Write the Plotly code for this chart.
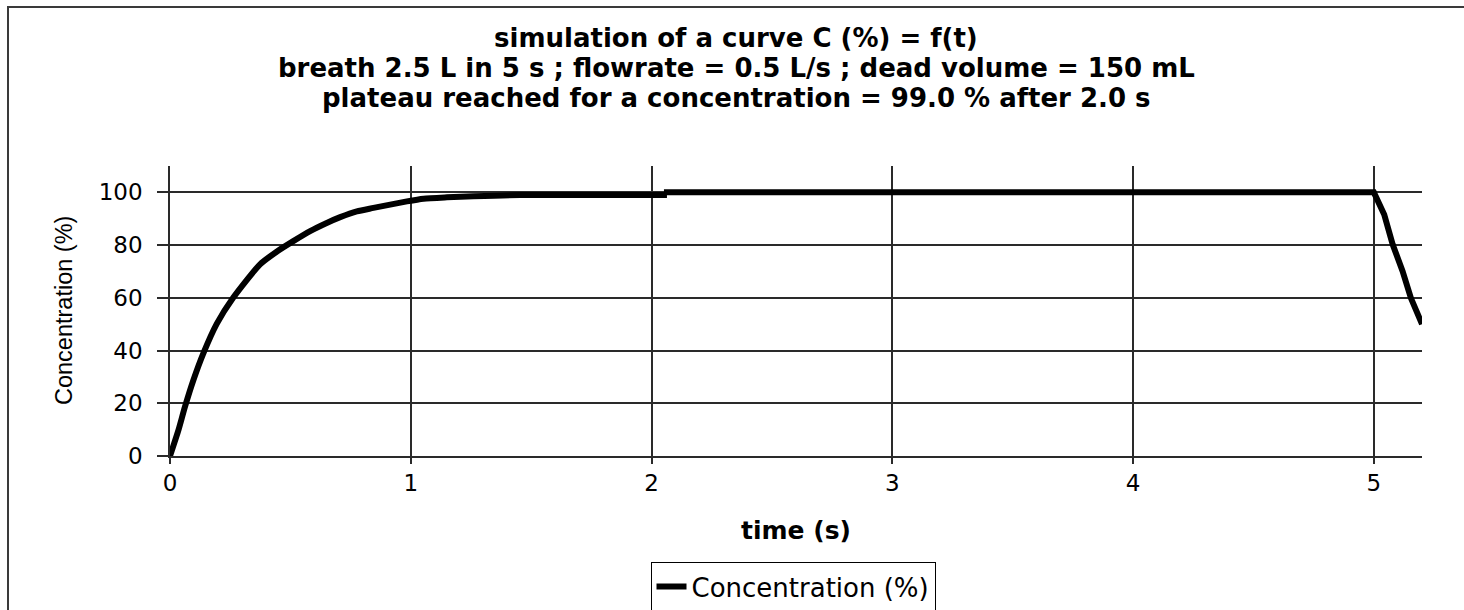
import plotly.graph_objects as go

# Simulated concentration curve C (%) versus time (s)
time_s = [0, 0.035, 0.062, 0.097, 0.138, 0.194, 0.263, 0.374, 0.443, 0.512,
          0.582, 0.651, 0.707, 0.776, 0.845, 0.984, 1.053, 1.15, 1.26, 1.455,
          2.064, 2.064, 5.0, 5.043, 5.078, 5.119, 5.154, 5.2]
concentration = [0, 9.8, 18.6, 28.7, 38.8, 50.1, 60.1, 72.7, 77.5, 81.5,
                 85.3, 88.4, 90.6, 92.8, 94.1, 96.6, 97.6, 98.1, 98.5, 99.0,
                 99.0, 100, 100, 91.6, 80.3, 70.2, 59.9, 50.0]

x_ticks = [0, 1, 2, 3, 4, 5]
y_ticks = [0, 20, 40, 60, 80, 100]

title_lines = [
    "simulation of a curve C (%) = f(t)",
    "breath 2.5 L in 5 s ; flowrate = 0.5 L/s ; dead volume = 150 mL",
    "plateau reached for a concentration = 99.0 % after 2.0 s",
]

W, H = 1464, 610
ML, MR, MT, MB = 170, 42, 166, 154
plot_w = W - ML - MR
plot_h = H - MT - MB

FONT = "DejaVu Sans"
GRID = "#2a2a2a"

# the smooth wash-in part is drawn as a spline, the plateau / wash-out as straight segments
split = time_s.index(2.064) + 1

fig = go.Figure()
fig.add_trace(go.Scatter(
    x=time_s[:split], y=concentration[:split], mode="lines",
    name="Concentration (%)", legendgroup="c",
    line=dict(color="black", width=6, shape="spline", smoothing=0.6),
))
fig.add_trace(go.Scatter(
    x=time_s[split - 1:], y=concentration[split - 1:], mode="lines",
    name="Concentration (%)", legendgroup="c", showlegend=False,
    line=dict(color="black", width=6),
))

annotations = []
for i, line in enumerate(title_lines):
    annotations.append(dict(
        text=f"<b>{line}</b>", xref="paper", yref="paper",
        x=(736 - ML) / plot_w, y=1, xanchor="center", yanchor="middle",
        yshift=MT - (38 + 30 * i), showarrow=False,
        font=dict(family=FONT, size=26, color="black"),
    ))
annotations.append(dict(
    text="<b>time (s)</b>", xref="paper", yref="paper", x=0.5, y=0,
    xanchor="center", yanchor="middle", yshift=-74, showarrow=False,
    font=dict(family=FONT, size=25, color="black"),
))
annotations.append(dict(
    text="Concentration (%)", xref="paper", yref="paper", x=0, y=0.5,
    xanchor="center", yanchor="middle", xshift=64 - ML, textangle=-90,
    showarrow=False, font=dict(family="Liberation Sans", size=23.5, color="black"),
))

fig.update_layout(
    width=W, height=H,
    margin=dict(l=ML, r=MR, t=MT, b=MB, autoexpand=False),
    paper_bgcolor="white", plot_bgcolor="white",
    showlegend=True,
    legend=dict(
        x=(793 - ML) / plot_w, y=(MT + plot_h - 562) / plot_h,
        xanchor="center", yanchor="top",
        bgcolor="white", bordercolor="black", borderwidth=1,
        font=dict(family=FONT, size=26, color="black"),
    ),
    annotations=annotations,
    shapes=[dict(
        type="rect", xref="paper", yref="paper",
        x0=(8 - ML) / plot_w, x1=(1600 - ML) / plot_w,
        y0=(MT + plot_h - 700) / plot_h, y1=(MT + plot_h - 7) / plot_h,
        line=dict(color="#3a3a3a", width=2), layer="below",
    )],
)

fig.update_xaxes(
    range=[0, 5.2], tickvals=x_ticks, ticktext=[str(v) for v in x_ticks],
    showgrid=True, gridcolor=GRID, gridwidth=1.5,
    showline=True, linecolor=GRID, linewidth=1.5,
    ticks="outside", ticklen=6, tickwidth=1.5, tickcolor=GRID,
    zeroline=False, tickfont=dict(family=FONT, size=23, color="black"),
)
fig.update_yaxes(
    range=[0, 110], tickvals=y_ticks, ticktext=[str(v) for v in y_ticks],
    showgrid=True, gridcolor=GRID, gridwidth=1.5,
    showline=True, linecolor=GRID, linewidth=1.5,
    ticks="outside", ticklen=11, tickwidth=1.5, tickcolor=GRID,
    zeroline=False, ticklabelstandoff=10,
    tickfont=dict(family=FONT, size=23, color="black"),
)

fig.write_html("out.html")
